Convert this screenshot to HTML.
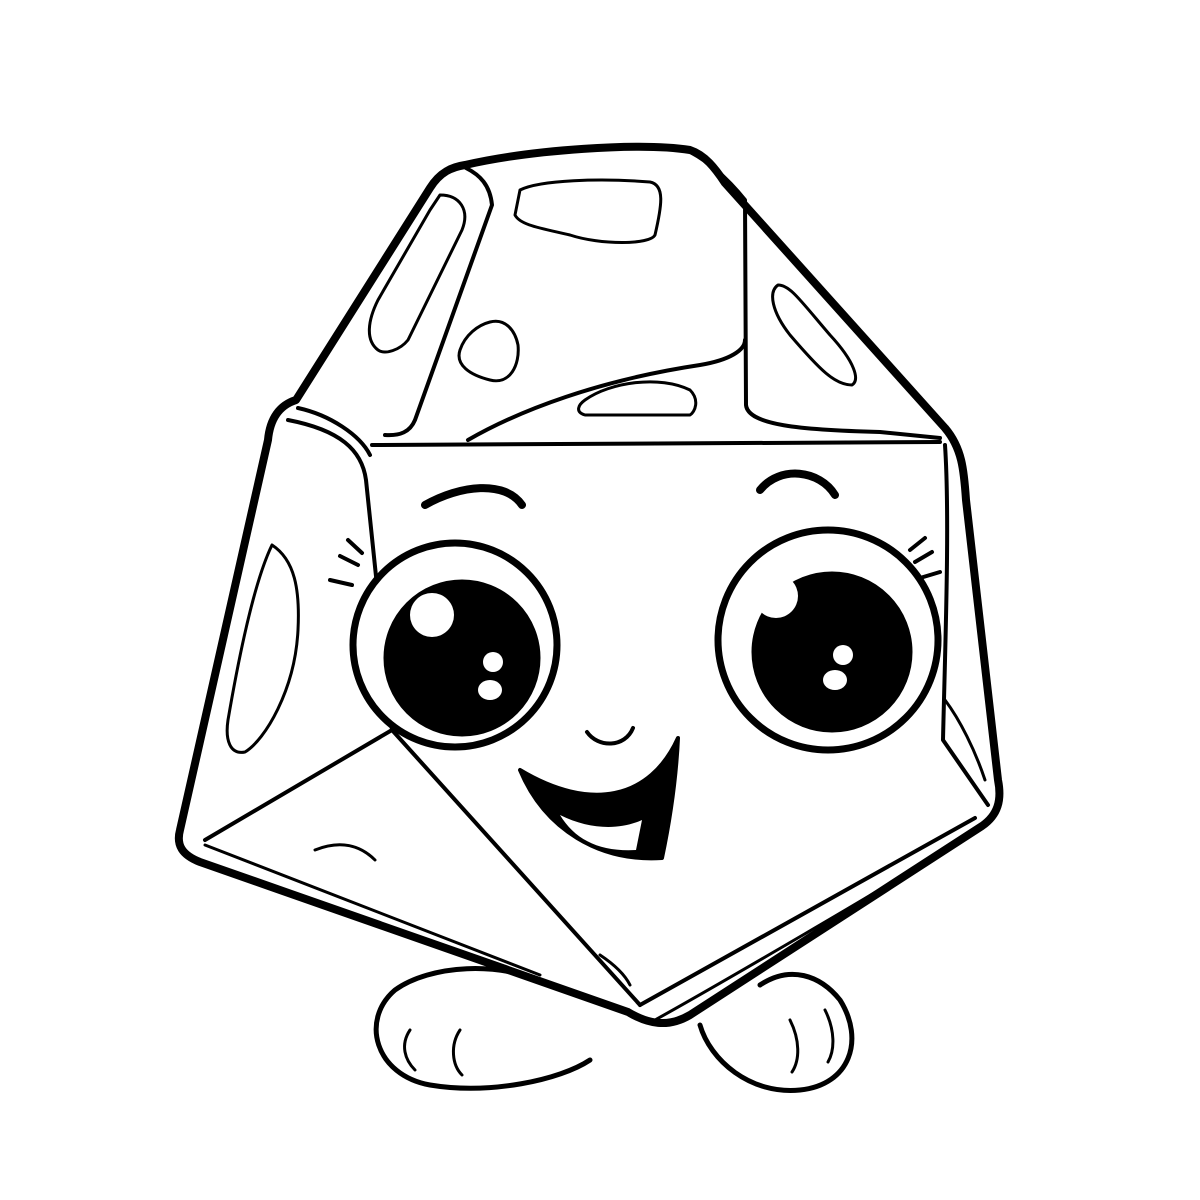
<!DOCTYPE html>
<html><head><meta charset="utf-8"><style>html,body{margin:0;padding:0;background:#fff}svg{display:block}</style></head>
<body>
<svg width="1200" height="1200" viewBox="0 0 1200 1200" xmlns="http://www.w3.org/2000/svg">
<rect width="1200" height="1200" fill="#fff"/>
<g fill="#fff" stroke="#000" stroke-width="5" stroke-linecap="round" stroke-linejoin="round">
<path d="M550,985 C500,960 430,965 395,990 C360,1020 375,1075 430,1085 C490,1095 560,1080 590,1060" />
<path d="M700,1025 C710,1060 750,1095 800,1090 C850,1085 865,1040 840,1000 C820,975 790,965 760,985"/>
<path d="M410,1030 C400,1045 405,1060 415,1070" fill="none" stroke-width="3"/>
<path d="M460,1030 C450,1045 452,1065 462,1075" fill="none" stroke-width="3"/>
<path d="M790,1020 C800,1040 800,1060 792,1072" fill="none" stroke-width="3"/>
<path d="M825,1010 C835,1030 835,1050 828,1062" fill="none" stroke-width="3"/>
<path stroke-width="8" d="M465,165 C530,150 640,142 690,150 C705,155 715,168 725,183 L945,428 C962,448 964,470 966,500 L998,780 C1002,800 998,815 982,826 L690,1015 C668,1028 648,1024 628,1012 L200,862 C182,855 176,845 180,830 L268,440 C270,418 280,405 296,400 L430,188 C440,172 452,167 465,165 Z"/>
</g>
<g fill="none" stroke="#000" stroke-width="4" stroke-linecap="round" stroke-linejoin="round">
<path d="M466,168 C480,175 490,185 492,205 L415,420 C410,432 400,436 385,435"/>
<path d="M692,153 C705,160 725,175 745,200 L746,405 C748,425 800,430 880,432 L940,438"/>
<path d="M298,408 C330,415 360,435 370,455"/>
<path d="M372,445 L940,442"/>
<path d="M468,440 C520,410 600,380 700,365 C730,360 745,350 745,340"/>
<path d="M288,420 C340,430 362,450 366,480 L392,730"/>
<path d="M392,730 L205,840"/>
<path d="M392,730 L640,1005"/>
<path d="M945,445 C950,520 945,650 943,740 L988,805"/>
<path d="M640,1005 L975,818"/>
<path d="M655,1020 C700,995 900,880 980,828" stroke-width="3"/>
<path d="M205,845 L540,975" stroke-width="3"/>
<path d="M440,195 C460,195 470,210 462,230 L408,340 C400,350 385,355 378,350 C365,340 368,320 378,300 L430,210 Z" stroke-width="3"/>
<path d="M520,190 C540,180 600,178 650,182 C665,185 662,205 655,235 C650,245 600,245 570,235 C540,228 520,225 515,215 Z" stroke-width="3"/>
<path d="M490,322 C505,318 515,330 518,345 C520,365 510,385 490,380 C470,375 455,365 460,350 C465,335 478,325 490,322 Z" stroke-width="3"/>
<path d="M585,400 C610,382 660,375 690,390 C700,400 695,412 690,415 L585,415 C575,412 578,405 585,400 Z" stroke-width="3"/>
<path d="M778,285 C790,285 800,300 830,335 C855,362 860,380 852,385 C835,385 820,370 790,335 C772,312 768,292 778,285 Z" stroke-width="3"/>
<path d="M272,545 C295,560 300,590 298,630 C295,690 265,740 245,752 C230,755 225,740 228,720 C240,650 255,580 272,545 Z" stroke-width="3"/>
<path d="M945,700 C960,720 975,750 985,780" stroke-width="3"/>
<path d="M315,850 C340,840 360,845 375,860" stroke-width="3"/>
<path d="M600,955 C615,965 625,975 630,985" stroke-width="3"/>
</g>
<g stroke="#000">
<circle cx="455" cy="645" r="102" fill="#fff" stroke-width="7"/>
<circle cx="462" cy="658" r="78" fill="#000"/>
<circle cx="432" cy="615" r="22" fill="#fff" stroke="none"/>
<circle cx="493" cy="662" r="10" fill="#fff" stroke="none"/>
<ellipse cx="490" cy="690" rx="12" ry="10" fill="#fff" stroke="none"/>
<circle cx="828" cy="640" r="110" fill="#fff" stroke-width="7"/>
<circle cx="832" cy="652" r="80" fill="#000"/>
<circle cx="776" cy="596" r="22" fill="#fff" stroke="none"/>
<circle cx="843" cy="655" r="10" fill="#fff" stroke="none"/>
<ellipse cx="835" cy="680" rx="12" ry="10" fill="#fff" stroke="none"/>
</g>
<g fill="none" stroke="#000" stroke-linecap="round">
<path d="M330,580 L352,585 M340,556 L358,565 M348,540 L362,553" stroke-width="4"/>
<path d="M932,552 L915,562 M940,572 L920,578 M925,538 L910,550" stroke-width="4"/>
<path d="M425,505 C460,485 505,480 522,505" stroke-width="8"/>
<path d="M760,490 C780,465 820,470 835,495" stroke-width="8"/>
<path d="M587,732 C598,748 625,748 633,728" stroke-width="4"/>
</g>
<path d="M520,770 C545,830 600,862 662,858 C670,820 676,780 678,738 C650,800 590,812 520,770 Z" fill="#000" stroke="#000" stroke-width="4" stroke-linejoin="round"/>
<path d="M560,815 C590,830 620,830 642,820 L636,850 C600,852 575,840 560,815 Z" fill="#fff"/>
</svg>
</body></html>
